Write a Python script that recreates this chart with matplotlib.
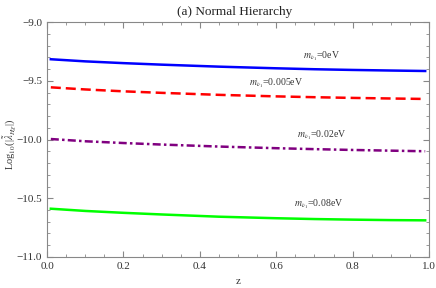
import numpy as np
import matplotlib.pyplot as plt
from matplotlib.ticker import MultipleLocator

plt.rcParams['font.family'] = ['Liberation Serif', 'DejaVu Serif']
plt.rcParams['mathtext.fontset'] = 'stix'

# valores
z = [0.01, 0.1, 0.2, 0.3, 0.45, 0.6, 0.7, 0.8, 0.9, 0.99]
blue = [-9.317, -9.335, -9.350, -9.363, -9.380, -9.394, -9.402, -9.408, -9.413, -9.417]
red = [-9.556, -9.574, -9.590, -9.603, -9.620, -9.633, -9.640, -9.646, -9.651, -9.655]
purple = [-9.996, -10.015, -10.030, -10.043, -10.060, -10.074, -10.082, -10.089, -10.095, -10.100]
green = [-10.589, -10.608, -10.624, -10.638, -10.657, -10.670, -10.677, -10.682, -10.686, -10.688]
labels = [r'$m_{\nu_1}$=0eV', r'$m_{\nu_1}$=0.005eV', r'$m_{\nu_1}$=0.02eV', r'$m_{\nu_1}$=0.08eV']
label_pos = [(0.72, -9.29), (0.60, -9.52), (0.72, -9.96), (0.71, -10.555)]

fig = plt.figure(figsize=(4.36, 2.88), dpi=100)
ax = fig.add_axes([47 / 436, 31 / 288, 382 / 436, 235 / 288])

ax.plot(z, blue, color='#0000ff', lw=1.8)
ax.plot(z, red, color='#ff0000', lw=1.8, dashes=(4, 2))
ax.plot(z, purple, color='#800080', lw=1.8, dashes=(3.2, 1.3, 1, 1.3))
ax.plot(z, green, color='#00ff00', lw=1.8)

for lab, (x, y) in zip(labels, label_pos):
    ax.text(x, y, lab, fontsize=7, ha='center', va='center', color='#333333')

ax.set_xlim(0, 1)
ax.set_ylim(-11, -9)
ax.xaxis.set_major_locator(MultipleLocator(0.2))
ax.xaxis.set_minor_locator(MultipleLocator(0.05))
ax.yaxis.set_major_locator(MultipleLocator(0.5))
ax.yaxis.set_minor_locator(MultipleLocator(0.1))
ax.xaxis.set_major_formatter(plt.FuncFormatter(lambda v, p: f'{v:.1f}'))
ax.yaxis.set_major_formatter(plt.FuncFormatter(lambda v, p: f'\u2212{abs(v):.1f}'))

for s in ax.spines.values():
    s.set_color('#888888')
ax.tick_params(which='both', direction='in', top=True, right=True, color='#888888',
               labelsize=8, labelcolor='#333333')
ax.tick_params(which='major', length=4)
ax.tick_params(which='minor', length=2)

ax.set_xlabel('z', fontsize=8, color='#333333')
ax.xaxis.set_label_coords(0.5, -0.085)
ax.set_ylabel(r'Log$_{10}$(|$\tilde{\lambda}_{H\chi}$|)', fontsize=7.5, color='#333333')
ax.yaxis.set_label_coords(-0.076, 0.48)
fig.text(235 / 436, 1 - 12 / 288, '(a) Normal Hierarchy', fontsize=9.5, ha='center', va='center',
         color='#222222')

fig.savefig('out.png', dpi=100)
